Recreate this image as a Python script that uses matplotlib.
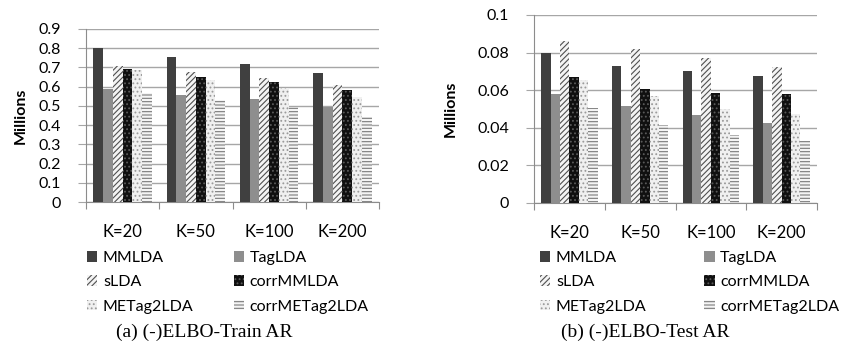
import numpy as np
import matplotlib
matplotlib.use("Agg")
import matplotlib.pyplot as plt

plt.rcParams["font.family"] = ["Lato", "DejaVu Sans"]
plt.rcParams["hatch.linewidth"] = 0.8

categorias = ["K=20", "K=50", "K=100", "K=200"]
modelos = ["MMLDA", "TagLDA", "sLDA", "corrMMLDA", "METag2LDA", "corrMETag2LDA"]

# (-)ELBO train, millones
train = {
    "MMLDA":         [0.80, 0.755, 0.72, 0.67],
    "TagLDA":        [0.59, 0.555, 0.534, 0.493],
    "sLDA":          [0.71, 0.675, 0.643, 0.607],
    "corrMMLDA":     [0.69, 0.65, 0.624, 0.583],
    "METag2LDA":     [0.685, 0.635, 0.595, 0.545],
    "corrMETag2LDA": [0.565, 0.53, 0.496, 0.444],
}
# (-)ELBO test, millones
test = {
    "MMLDA":         [0.0796, 0.0728, 0.0702, 0.0677],
    "TagLDA":        [0.0578, 0.0515, 0.0467, 0.0423],
    "sLDA":          [0.0863, 0.0817, 0.0773, 0.0725],
    "corrMMLDA":     [0.0668, 0.0604, 0.0586, 0.0579],
    "METag2LDA":     [0.0654, 0.0568, 0.0498, 0.0473],
    "corrMETag2LDA": [0.0506, 0.0414, 0.0361, 0.0329],
}

# estilo de cada serie: (relleno, color de trama, trama)
estilos = {
    "MMLDA":         ("#404040", "#404040", None),
    "TagLDA":        ("#8e8e8e", "#8e8e8e", None),
    "sLDA":          ("#f4f4f4", "#505050", "//////"),
    "corrMMLDA":     ("#101010", "#5a5a5a", "...."),
    "METag2LDA":     ("#f0f0f0", "#9a9a9a", "...."),
    "corrMETag2LDA": ("#f4f4f4", "#7a7a7a", "-----"),
}

W, H = 847, 348
fig = plt.figure(figsize=(W / 100, H / 100), dpi=100)


def px_axes(x0, y0, x1, y1):
    return fig.add_axes([x0 / W, 1 - y1 / H, (x1 - x0) / W, (y1 - y0) / H])


def panel(ax, datos, ymax, paso, fmt):
    x = np.arange(len(categorias))
    w = 0.8 / len(modelos)
    barras = []
    for i, m in enumerate(modelos):
        fc, hc, hatch = estilos[m]
        b = ax.bar(x - 0.4 + w * (i + 0.5), datos[m], width=w, facecolor=fc,
                   edgecolor=hc, hatch=hatch, linewidth=0, label=m, zorder=3)
        barras.append(b)
    ax.set_xlim(-0.5, len(categorias) - 0.5)
    ax.set_ylim(0, ymax)
    ticks = np.arange(0, ymax + paso / 2, paso)
    ax.set_yticks(ticks)
    ax.set_yticklabels([fmt(t) for t in ticks], fontsize=11.5)
    ax.yaxis.grid(True, color="#a6a6a6", lw=1, zorder=0)
    ax.set_xticks(np.arange(-0.5, len(categorias)), minor=False)
    ax.set_xticklabels([])
    ax.set_xticks(x, minor=True)
    ax.set_xticklabels(categorias, minor=True, fontsize=12)
    ax.tick_params(axis="x", which="major", length=5, color="#8c8c8c")
    ax.tick_params(axis="x", which="minor", length=0, pad=16)
    ax.tick_params(axis="y", length=6, color="#a6a6a6", pad=12)
    for s in ["top", "right"]:
        ax.spines[s].set_visible(False)
    for s in ["left", "bottom"]:
        ax.spines[s].set_color("#8c8c8c")
    ax.set_ylabel("Millions", fontsize=11.5, fontweight="bold")
    return barras


ax1 = px_axes(86, 29, 379, 202)
b1 = panel(ax1, train, 0.9, 0.1, lambda t: "0" if t == 0 else f"{t:.1f}")
ax1.yaxis.set_label_coords(-0.2, 0.5)

ax2 = px_axes(534, 15, 817, 203)
b2 = panel(ax2, test, 0.1, 0.02, lambda t: "0" if t == 0 else f"{t:.2f}".rstrip("0"))
ax2.yaxis.set_label_coords(-0.27, 0.5)

orden = [0, 2, 4, 1, 3, 5]
for barras, x0, esp in [(b1, 87, 2.5), (b2, 540, 3.6)]:
    hs = [barras[i] for i in orden]
    ls = [modelos[i] for i in orden]
    fig.legend(hs, ls, loc="upper left", bbox_to_anchor=(x0 / W, 1 - 251 / H),
               ncol=2, frameon=False, fontsize=11.5, handlelength=0.65,
               handleheight=0.65, handletextpad=0.35, columnspacing=esp,
               labelspacing=0.65, borderpad=0, borderaxespad=0)

fig.text(204 / W, 1 - 332 / H, "(a) (-)ELBO-Train AR", ha="center", va="center",
         fontsize=14, family="Liberation Serif")
fig.text(645 / W, 1 - 332 / H, "(b) (-)ELBO-Test AR", ha="center", va="center",
         fontsize=14, family="Liberation Serif")

fig.savefig("out.png", dpi=100, facecolor="white")
